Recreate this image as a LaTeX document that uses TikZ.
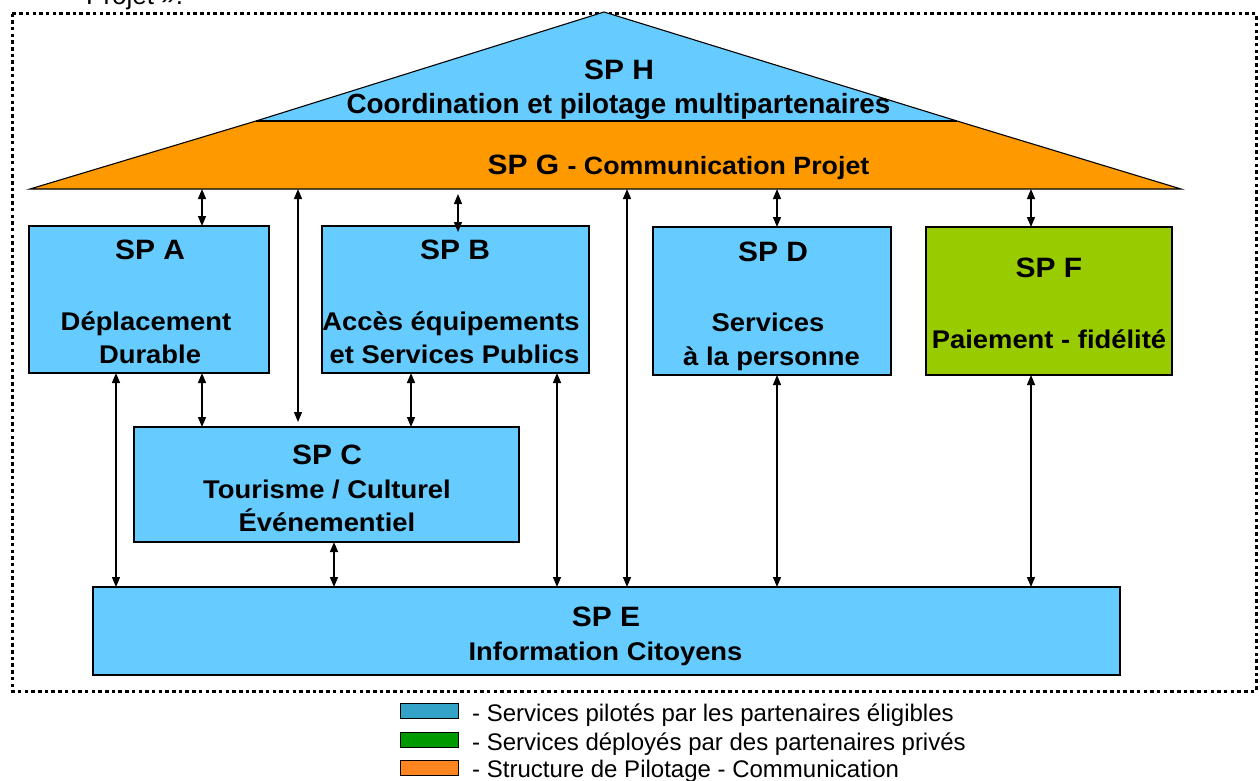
\documentclass[tikz,border=0pt]{standalone}
\usepackage{fontspec}
\setmainfont{Liberation Sans}
\newfontfamily\wideff[FakeStretch=1.07]{Liberation Sans}
\usetikzlibrary{arrows.meta}
\definecolor{boxblue}{HTML}{66CCFF}
\definecolor{roofor}{HTML}{FF9900}
\definecolor{boxgreen}{HTML}{99CC00}
\definecolor{legblue}{HTML}{33A3C8}
\definecolor{leggreen}{HTML}{009900}
\definecolor{legorange}{HTML}{FF8521}
\begin{document}
\begin{tikzpicture}[x=1pt,y=-1pt,
  box/.style={draw=black,line width=1.1pt,fill=boxblue,inner sep=0pt,outer sep=0pt},
  sp/.style={font=\wideff\bfseries\fontsize{28}{30}\selectfont,inner sep=0pt,anchor=base},
  txt/.style={font=\wideff\bfseries\fontsize{25.6}{28}\selectfont,inner sep=0pt,anchor=base},
  leg/.style={font=\fontsize{24}{26}\selectfont,inner sep=0pt,anchor=base west},
  legbox/.style={draw=black,line width=0.8pt,inner sep=0pt,outer sep=0pt,minimum width=58pt,minimum height=15pt},
  >={Triangle[length=10pt,width=8pt]},
  link/.style={<->,line width=1.3pt},
]
\useasboundingbox (0,0) rectangle (1260,780);

% top cut text
\node[font=\fontsize{26}{28}\selectfont,anchor=base west,inner sep=0pt] (toptxt) at (86,4) {Projet~».};

% dotted frame
\draw[line width=3pt,dash pattern=on 3.5pt off 3.2pt] (12,13.5) rectangle (1256,691);

% roof
\coordinate (apex) at (604,12);
\coordinate (hl) at (256,121);
\coordinate (hr) at (957,121);
\coordinate (gl) at (30,189);
\coordinate (gr) at (1181,189);
\fill[roofor] (hl) -- (hr) -- (gr) -- (gl) -- cycle;
\fill[boxblue] (apex) -- (hr) -- (hl) -- cycle;
\draw[line width=1.1pt] (gl) -- (hl) -- (apex) -- (hr) -- (gr) -- cycle;
\draw[line width=1.1pt] (hl) -- (hr);

\node[sp] (ht) at (619,79) {SP H};
\node[font=\bfseries\fontsize{27.8}{30}\selectfont,inner sep=0pt,anchor=base] (hs) at (618.5,113) {Coordination et pilotage multipartenaires};
\node[inner sep=0pt,anchor=base] (gt) at (678.5,174) {\wideff\bfseries\fontsize{28}{30}\selectfont SP G \fontsize{25}{28}\selectfont- Communication Projet};

% boxes
\node[box,minimum width=240pt,minimum height=147pt] (a) at (149,299.5) {};
\node[box,minimum width=267pt,minimum height=147pt] (b) at (455.5,299.5) {};
\node[box,minimum width=238pt,minimum height=148pt] (d) at (772,301) {};
\node[box,fill=boxgreen,minimum width=246pt,minimum height=148pt] (f) at (1049,301) {};
\node[box,minimum width=385pt,minimum height=115pt] (c) at (326.5,484.5) {};
\node[box,minimum width=1027pt,minimum height=88pt] (e) at (606.5,631) {};

% labels
\node[sp] (at) at (150,259) {SP A};
\node[txt] (a1) at (146,330) {Déplacement};
\node[txt] (a2) at (150,363) {Durable};
\node[sp] (bt) at (455,259) {SP B};
\node[txt] (b1) at (451,330) {Accès équipements};
\node[txt] (b2) at (454.5,363) {et Services Publics};
\node[sp] (dt) at (773,261) {SP D};
\node[txt] (d1) at (768,331) {Services};
\node[txt] (d2) at (771.5,365) {à la personne};
\node[sp] (ft) at (1049,277) {SP F};
\node[txt] (f1) at (1049,348) {Paiement - fidélité};
\node[sp] (ct) at (327,464) {SP C};
\node[txt] (c1) at (327,498) {Tourisme / Culturel};
\node[txt] (c2) at (327,531) {Événementiel};
\node[sp] (et) at (606,626) {SP E};
\node[txt] (e1) at (605.5,660) {Information Citoyens};

% arrow columns
\coordinate (x1) at (116,0);
\coordinate (x2) at (202,0);
\coordinate (x3) at (298,0);
\coordinate (x4) at (334,0);
\coordinate (x5) at (411,0);
\coordinate (x6) at (458,0);
\coordinate (x7) at (557,0);
\coordinate (x8) at (627,0);
\coordinate (x9) at (777,0);
\coordinate (x10) at (1031,0);

% roof links
\draw[link] (gl -| x2) -- (a.north -| x2);
\draw[link] (gl -| x3) -- ([yshift=5pt]c.north -| x3);
\draw[link] ([yshift=-5pt]gl -| x6) -- ([yshift=-6pt]b.north -| x6);
\draw[link] (gl -| x8) -- (e.north -| x8);
\draw[link] (gl -| x9) -- (d.north -| x9);
\draw[link] (gl -| x10) -- (f.north -| x10);

% box links
\draw[link] (a.south -| x1) -- (e.north -| x1);
\draw[link] (a.south -| x2) -- (c.north -| x2);
\draw[link] (b.south -| x5) -- (c.north -| x5);
\draw[link] (b.south -| x7) -- (e.north -| x7);
\draw[link] (c.south -| x4) -- (e.north -| x4);
\draw[link] (d.south -| x9) -- (e.north -| x9);
\draw[link] (f.south -| x10) -- (e.north -| x10);

% legend
\node[legbox,fill=legblue] (l1) at (429,711) {};
\node[legbox,fill=leggreen] (l2) at (429,739.5) {};
\node[legbox,fill=legorange] (l3) at (429,768) {};
\node[leg] (l1t) at (472,721) {- Services pilotés par les partenaires éligibles};
\node[leg] (l2t) at (472,750) {- Services déployés par des partenaires privés};
\node[leg] (l3t) at (472,777) {- Structure de Pilotage - Communication};
\end{tikzpicture}
\end{document}
